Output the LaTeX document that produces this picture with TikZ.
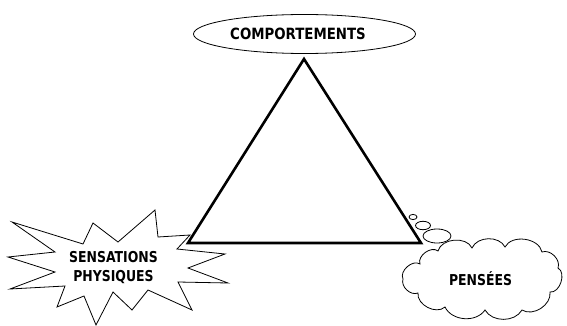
\documentclass[tikz,border=0pt]{standalone}
\usepackage{fontspec}
\usetikzlibrary{shapes.geometric}
\newfontfamily\lblfont[FakeStretch=0.86]{DejaVu Sans}
\newfontfamily\lblfontnarrow[FakeStretch=0.83]{DejaVu Sans}
\begin{document}
\begin{tikzpicture}[x=1pt,y=-1pt]
\tikzset{
  lbl/.style={font=\lblfont\bfseries\fontsize{15.5}{19}\selectfont, align=center, inner sep=0pt},
  lblstar/.style={font=\lblfontnarrow\bfseries\fontsize{15}{19}\selectfont, align=center, inner sep=0pt},
  thin outline/.style={draw=black, line width=0.8pt, line join=miter},
  bubble/.style={draw=black, line width=0.8pt}
}
\useasboundingbox (0,0) rectangle (567,326);

% central triangle
\coordinate (apex) at (304,59);
\coordinate (left) at (188,243);
\coordinate (right) at (421,243);
\draw[line width=2.6pt, line join=miter] (apex) -- (left) -- (right) -- cycle;

% behaviours: ellipse above the apex
\node[ellipse, thin outline, minimum width=222pt, minimum height=39pt] (behav) at (304.5,34) {};
\node[lbl] (behavtxt) at (298,34) {COMPORTEMENTS};

% physical sensations: explosion star
\draw[thin outline, fill=white]
  (12,222) -- (83,244) -- (93,223) -- (118,242) -- (155,210) -- (158,237)
  -- (190,235) -- (177,249) -- (225,254) -- (188,268) -- (228,283)
  -- (178,282) -- (192,310) -- (148,290) -- (132,310) -- (113,292)
  -- (96,325) -- (84,296) -- (57,307) -- (65,286) -- (10,289)
  -- (55,272) -- (8,257) -- (55,252) -- cycle;
\node[lblstar] (senstxt) at (113.5,268) {SENSATIONS\\PHYSIQUES};

% thought bubbles
\draw[bubble] (413,217) ellipse [x radius=4, y radius=2.6];
\draw[bubble] (423,225.5) ellipse [x radius=7.5, y radius=4.2];
\draw[bubble] (437,236) ellipse [x radius=14, y radius=7];

% thoughts: cloud
\draw[thin outline, fill=white]
  (420,264) to[bend left=75] (438,251)
  to[bend left=70] (472,248)
  to[bend left=65] (505,247)
  to[bend left=70] (542,252)
  to[bend left=65] (558,268)
  to[bend left=80] (550,292)
  to[bend left=65] (522,310)
  to[bend left=60] (485,310)
  to[bend left=60] (445,307)
  to[bend left=70] (418,293)
  to[bend left=65] (403,279)
  to[bend left=75] cycle;
\node[lblstar] (thoughttxt) at (480.5,278.5) {PENSÉES};
\end{tikzpicture}
\end{document}
